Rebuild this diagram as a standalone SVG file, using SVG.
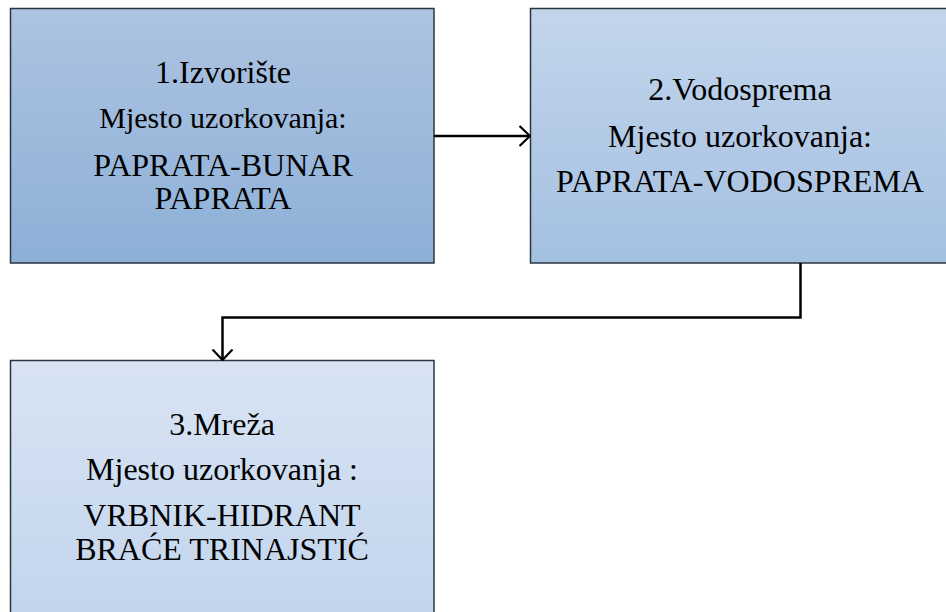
<svg xmlns="http://www.w3.org/2000/svg" width="946" height="612" viewBox="0 0 946 612">
<defs>
<linearGradient id="g1" x1="0" y1="0" x2="0" y2="1"><stop offset="0" stop-color="#adc3e1"/><stop offset="1" stop-color="#8db0d7"/></linearGradient>
<linearGradient id="g2" x1="0" y1="0" x2="0" y2="1"><stop offset="0" stop-color="#c3d5ec"/><stop offset="1" stop-color="#a4c0e1"/></linearGradient>
<linearGradient id="g3" x1="0" y1="0" x2="0" y2="1"><stop offset="0" stop-color="#d8e4f3"/><stop offset="1" stop-color="#c1d4ed"/></linearGradient>
<marker id="arr" viewBox="0 0 12 22" refX="11.5" refY="11" markerWidth="12" markerHeight="22" markerUnits="userSpaceOnUse" orient="auto">
<path d="M1,1 L11.5,11 L1,21" fill="none" stroke="#000" stroke-width="2.2"/>
</marker>
<style>
.box{stroke:#2b3540;stroke-width:1.5}
.t{font-family:"Liberation Serif","Times New Roman",serif;font-size:32px;fill:#000;text-anchor:middle}
.s{font-size:30px}
.c{fill:none;stroke:#000;stroke-width:2.5}
</style>
</defs>
<g id="node1">
<rect class="box" x="10.5" y="8.5" width="423.5" height="254.5" fill="url(#g1)"/>
<text class="t" x="223" y="83">1.Izvorište</text>
<text class="t s" x="223" y="128">Mjesto uzorkovanja:</text>
<text class="t" x="223" y="176">PAPRATA-BUNAR</text>
<text class="t" x="223" y="209">PAPRATA</text>
</g>
<g id="node2">
<rect class="box" x="530.5" y="8.5" width="430" height="254.5" fill="url(#g2)"/>
<text class="t" x="740" y="100">2.Vodosprema</text>
<text class="t" x="740" y="147">Mjesto uzorkovanja:</text>
<text class="t" x="740" y="192">PAPRATA-VODOSPREMA</text>
</g>
<g id="node3">
<rect class="box" x="10.5" y="360.5" width="423.5" height="270" fill="url(#g3)"/>
<text class="t" x="222" y="435">3.Mreža</text>
<text class="t" x="222" y="480">Mjesto uzorkovanja :</text>
<text class="t" x="222" y="526">VRBNIK-HIDRANT</text>
<text class="t" x="222" y="560">BRAĆE TRINAJSTIĆ</text>
</g>
<g id="connectors">
<path class="c" d="M434,136 L530,136" marker-end="url(#arr)"/>
<path class="c" d="M800.5,263 L800.5,317.5 L222.5,317.5 L222.5,360" marker-end="url(#arr)"/>
</g>
</svg>
